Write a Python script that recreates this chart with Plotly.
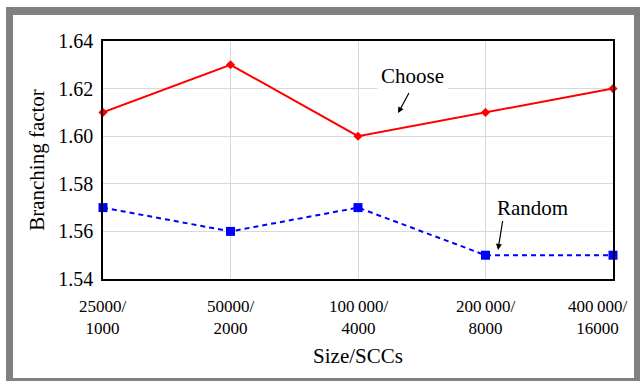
import plotly.graph_objects as go

categories = ["25000/<br>1000", "50000/<br>2000", "100\u2009000/<br>4000",
              "200\u2009000/<br>8000", "400\u2009000/<br>16000"]
choose_vals = [1.61, 1.63, 1.60, 1.61, 1.62]
random_vals = [1.57, 1.56, 1.57, 1.55, 1.55]
y_ticks = [1.54, 1.56, 1.58, 1.60, 1.62, 1.64]

xpos = list(range(len(categories)))
W, H = 640, 381
L, R, T, B = 103, 27, 41, 102
pw, ph = W - L - R, H - T - B

def px(x):
    return (x - L) / pw

def py(y):
    return (H - B - y) / ph

FONT = "'Liberation Serif', 'Times New Roman', Times, serif"

fig = go.Figure()
fig.add_trace(go.Scatter(
    x=xpos, y=choose_vals, mode="lines+markers",
    line=dict(color="#ff0000", width=2),
    marker=dict(symbol="diamond", size=7, color="#ff0000"),
    cliponaxis=False, showlegend=False, hoverinfo="skip"))
fig.add_trace(go.Scatter(
    x=xpos, y=random_vals, mode="lines+markers",
    line=dict(color="#0000ff", width=2, dash="5px,4px"),
    marker=dict(symbol="square", size=9, color="#0000ff"),
    cliponaxis=False, showlegend=False, hoverinfo="skip"))

gray = "#808080"
shapes = []
for (x0, y0, x1, y1) in [(6, 7, 650, 15), (6, 7, 13, 390), (634, 7, 650, 390), (6, 378, 650, 390)]:
    shapes.append(dict(type="rect", xref="paper", yref="paper",
                       x0=px(x0), x1=px(x1), y0=py(y0), y1=py(y1),
                       fillcolor=gray, line=dict(width=0), layer="above"))

annotations = [
    dict(x=2.424, y=1.6253, xref="x", yref="y", text="Choose", showarrow=False,
         font=dict(family=FONT, size=21, color="black"), bgcolor="white", borderpad=3),
    dict(x=2.314, y=1.6097, xref="x", yref="y", ax=2.408, ay=1.619, axref="x", ayref="y",
         text=" ", font=dict(size=1), showarrow=True, arrowhead=2, arrowsize=1,
         arrowwidth=1.2, arrowcolor="black"),
    dict(x=3.365, y=1.5698, xref="x", yref="y", text="Random", showarrow=False,
         font=dict(family=FONT, size=21, color="black")),
    dict(x=3.098, y=1.5522, xref="x", yref="y", ax=3.137, ay=1.5652, axref="x", ayref="y",
         text=" ", font=dict(size=1), showarrow=True, arrowhead=2, arrowsize=1,
         arrowwidth=1.2, arrowcolor="black"),
]
# x tick labels placed on the x axis scale (last one nudged inward as in the reference)
for i, (xv, lab) in enumerate(zip(xpos, categories)):
    annotations.append(dict(
        x=xv, y=0, xref="x", yref="paper", text=lab, showarrow=False,
        xanchor="center", yanchor="top", align="center",
        yshift=-16, xshift=(-16 if i == len(categories) - 1 else 0),
        font=dict(family=FONT, size=17, color="black")))

fig.update_layout(
    width=W, height=H,
    margin=dict(l=L, r=R, t=T, b=B),
    paper_bgcolor="white", plot_bgcolor="white",
    font=dict(family=FONT, color="black"),
    shapes=shapes, annotations=annotations,
    xaxis=dict(range=[0, 4], tickvals=xpos, showticklabels=False,
               showgrid=True, gridcolor="#d9d9d9", gridwidth=1,
               showline=True, mirror=True, linecolor="black", linewidth=1.5,
               ticks="", zeroline=False, automargin=False,
               title=dict(text="Size/SCCs", font=dict(family=FONT, size=21, color="black"),
                          standoff=69)),
    yaxis=dict(range=[1.54, 1.64], tickvals=y_ticks,
               ticktext=["%.2f" % v for v in y_ticks],
               showgrid=True, gridcolor="#d9d9d9", gridwidth=1,
               showline=True, mirror=True, linecolor="black", linewidth=1.5,
               ticks="", zeroline=False,
               tickfont=dict(family=FONT, size=20, color="black"),
               ticklabelstandoff=4, automargin=False,
               title=dict(text="Branching factor", font=dict(family=FONT, size=21, color="black"),
                          standoff=8)),
)

fig.write_html("out.html", post_script="document.body.style.margin='0';",
               config={"displayModeBar": False})
